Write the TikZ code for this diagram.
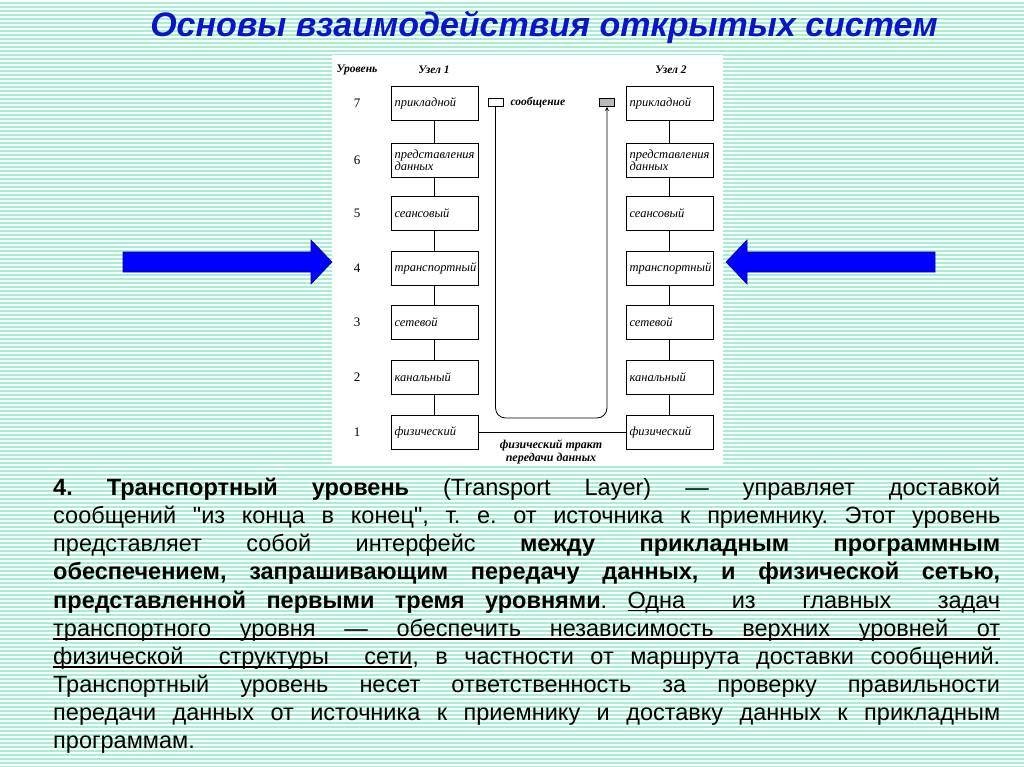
\documentclass[tikz,border=0pt]{standalone}
\usepackage{fontspec}
\setmainfont{Liberation Serif}
\newfontfamily\arialfont{Liberation Sans}
\definecolor{mint}{HTML}{A6EFD0}
\definecolor{slideblue}{HTML}{0000FF}
\definecolor{titleblue}{HTML}{0A14C8}
% underlined word and underlined space
\newcommand\ulw[1]{\setbox0\hbox{#1}\rlap{\vrule height -2pt depth 3.4pt width \wd0}\box0}
\newcommand\ulgap{\leaders\hrule height -2pt depth 3.4pt\hskip .28em plus .4em minus .08em\relax}
\tikzset{
	layerbox/.style={draw,line width=.8pt,minimum width=87pt,minimum height=34pt,text width=80pt,inner sep=3.5pt,align=left,font=\itshape\fontsize{12.5}{12.5}\selectfont},
	levelnum/.style={font=\fontsize{13}{13}\selectfont},
	headlbl/.style={font=\bfseries\itshape\fontsize{11.5}{12}\selectfont},
	msgbox/.style={draw,line width=.7pt,minimum width=15pt,minimum height=8pt,inner sep=0pt},
	bigarrow/.style={fill=slideblue,draw=blue!60!black,line width=.6pt}
}
\begin{document}
\frenchspacing
\begin{tikzpicture}[x=1pt,y=-1pt,>=stealth]
	\useasboundingbox (0,0) rectangle (1024,767);
	% striped background
	\fill[mint] (0,0) rectangle (1024,767);
	\foreach \y in {0,4,...,764}
		\fill[white] (0,\y) rectangle (1024,\y+1.8);
	\node[font=\arialfont\bfseries\itshape\fontsize{34}{34}\selectfont,text=titleblue] (title) at (544,27) {Основы взаимодействия открытых систем};
	% scanned figure
	\fill[white] (332,55) rectangle (723,465);
	\node[headlbl] (lvlhead) at (357,70) {Уровень};
	\node[headlbl] (host1) at (434,70) {Узел 1};
	\node[headlbl] (host2) at (671,70) {Узел 2};
	\foreach \n/\y/\t in {7/103/прикладной,6/160/{представления\\данных},5/213/сеансовый,4/268/транспортный,3/322/сетевой,2/377/канальный,1/432/физический}{
		\node[levelnum] (n\n) at (357,\y) {\n};
		\node[layerbox] (l\n) at (434.5,\y) {\t};
		\node[layerbox] (r\n) at (669.5,\y) {\t};
	}
	\foreach \a/\b in {7/6,6/5,5/4,4/3,3/2,2/1}{
		\draw[line width=.8pt] (l\a) -- (l\b);
		\draw[line width=.8pt] (r\a) -- (r\b);
	}
	\node[msgbox] (msgA) at (495.5,102.5) {};
	\node[msgbox,fill=gray!55] (msgB) at (607,102.5) {};
	\node[font=\bfseries\itshape\fontsize{11.5}{12}\selectfont,anchor=west] (msglbl) at (507,102.5) {сообщение};
	\coordinate (bend) at (551,418);
	\draw[line width=.8pt,rounded corners=10pt,->] (msgA.south) |- (bend) -| (msgB.south);
	\draw[line width=.8pt] (l1) -- (r1);
	\node[font=\bfseries\itshape\fontsize{12}{13.5}\selectfont,align=center] (tract) at (551,452) {физический тракт\\передачи данных};
	% blue pointers
	\draw[bigarrow] (123,252) -- (311,252) -- (311,240) -- (332,262) -- (311,284) -- (311,272) -- (123,272) -- cycle;
	\draw[bigarrow] (935,252) -- (747,252) -- (747,240) -- (726,262) -- (747,284) -- (747,272) -- (935,272) -- cycle;
	% text
	\node[anchor=north west,inner sep=0pt,text width=947pt,align=justify,font=\arialfont\fontsize{23.5}{28.1}\selectfont] (body) at (53,478) {%
		\textbf{4. Транспортный уровень} (Transport Layer) — управляет доставкой\linebreak
		сообщений "из конца в конец", т. е. от источника к приемнику. Этот уровень\linebreak
		представляет собой интерфейс \textbf{между прикладным программным}\linebreak
		\textbf{обеспечением, запрашивающим передачу данных, и физической сетью,}\linebreak
		\textbf{представленной первыми тремя уровнями}. \ulw{Одна}\ulgap\ulw{из}\ulgap\ulw{главных}\ulgap\ulw{задач}\linebreak
		\ulw{транспортного}\ulgap\ulw{уровня}\ulgap\ulw{—}\ulgap\ulw{обеспечить}\ulgap\ulw{независимость}\ulgap\ulw{верхних}\ulgap\ulw{уровней}\ulgap\ulw{от}\linebreak
		\ulw{физической}\ulgap\ulw{структуры}\ulgap\ulw{сети}, в частности от маршрута доставки сообщений.\linebreak
		Транспортный уровень несет ответственность за проверку правильности\linebreak
		передачи данных от источника к приемнику и доставку данных к прикладным\linebreak
		программам.};
\end{tikzpicture}
\end{document}
